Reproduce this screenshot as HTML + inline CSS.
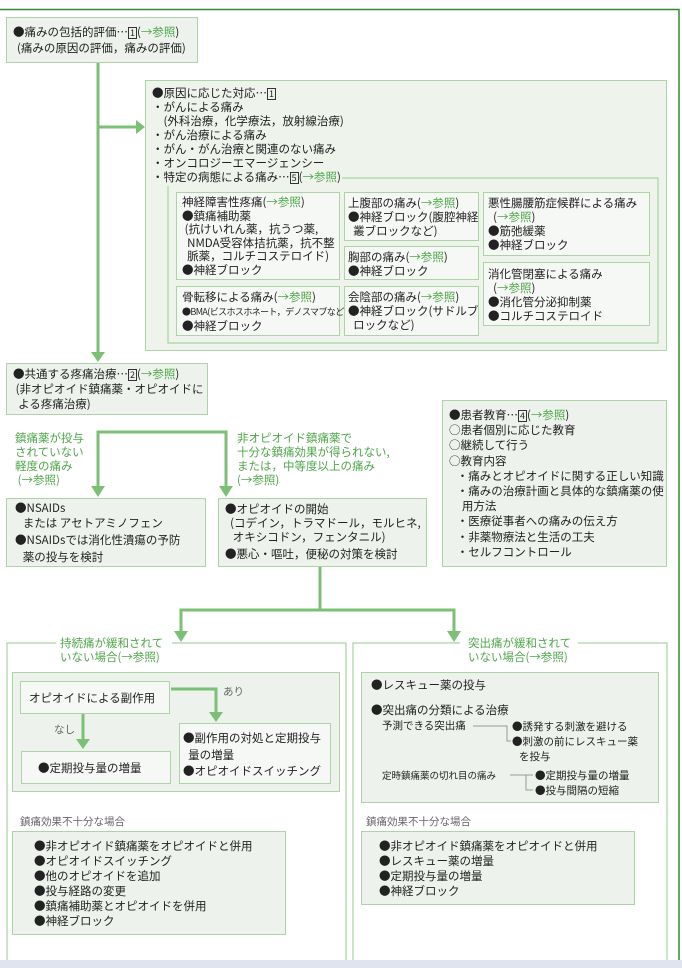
<!DOCTYPE html>
<html><head><meta charset="utf-8"><style>
body{margin:0;width:682px;height:968px;background:#fff;position:relative;overflow:hidden;font-family:"Noto Sans CJK JP","Liberation Sans",sans-serif;color:#222}
.b{position:absolute;background:#edf3ec;border:1.5px solid #acd4a6;box-sizing:border-box}
.w{background:#f6f8f5}
.t{position:absolute;font-size:11.5px;line-height:14px;white-space:nowrap}
.g{color:#4fa64a}
.s{font-size:10.5px}
.gr{color:#666}
.n{border:1px solid #333;font-size:9px;line-height:10px;padding:0 1px;display:inline-block}
</style></head><body>
<div style="position:absolute;left:0;top:960px;width:682px;height:8px;background:#dfe4ee"></div>

<div class="b" style="left:6px;top:17px;width:192px;height:46px"></div>
<div class="t" style="left:13px;top:25px">●痛みの包括的評価…<span class="n">1</span>(<span class="g">→参照</span>)</div>
<div class="t" style="left:17px;top:41px">(痛みの原因の評価，痛みの評価)</div>

<div class="b" style="left:145px;top:80px;width:522px;height:271px;background:#eef3ec"></div>
<div class="t" style="left:152px;top:86px;line-height:14px">●原因に応じた対応…<span class="n">1</span><br>・がんによる痛み<br>　(外科治療，化学療法，放射線治療)<br>・がん治療による痛み<br>・がん・がん治療と関連のない痛み<br>・オンコロジーエマージェンシー<br>・特定の病態による痛み…<span class="n">5</span>(<span class="g">→参照</span>)</div>

<div class="b w" style="left:176px;top:192px;width:164px;height:88px"></div>
<div class="t" style="left:182px;top:196px;line-height:13.5px">神経障害性疼痛(<span class="g">→参照</span>)<br>●鎮痛補助薬<br>&nbsp;(抗けいれん薬，抗うつ薬,<br>&nbsp;&nbsp;NMDA受容体拮抗薬，抗不整<br>&nbsp;&nbsp;脈薬，コルチコステロイド)<br>●神経ブロック</div>
<div class="b w" style="left:344px;top:192px;width:135px;height:49px"></div>
<div class="t" style="left:348px;top:196px;line-height:14px">上腹部の痛み(<span class="g">→参照</span>)<br>●神経ブロック(腹腔神経<br>&nbsp;&nbsp;叢ブロックなど)</div>
<div class="b w" style="left:344px;top:246px;width:135px;height:34px"></div>
<div class="t" style="left:348px;top:250px;line-height:14px">胸部の痛み(<span class="g">→参照</span>)<br>●神経ブロック</div>
<div class="b w" style="left:483px;top:192px;width:167px;height:64px"></div>
<div class="t" style="left:488px;top:196px;line-height:14px">悪性腸腰筋症候群による痛み<br>&nbsp;&nbsp;(<span class="g">→参照</span>)<br>●筋弛緩薬<br>●神経ブロック</div>
<div class="b w" style="left:483px;top:262px;width:167px;height:64px"></div>
<div class="t" style="left:488px;top:267px;line-height:14px">消化管閉塞による痛み<br>&nbsp;&nbsp;(<span class="g">→参照</span>)<br>●消化管分泌抑制薬<br>●コルチコステロイド</div>
<div class="b w" style="left:176px;top:286px;width:164px;height:50px"></div>
<div class="t" style="left:182px;top:290px;line-height:14px">骨転移による痛み(<span class="g">→参照</span>)<br><span style="font-size:9px;letter-spacing:-0.6px">●BMA(ビスホスホネート，デノスマブなど)</span><br>●神経ブロック</div>
<div class="b w" style="left:344px;top:286px;width:135px;height:50px"></div>
<div class="t" style="left:348px;top:290px;line-height:14px">会陰部の痛み(<span class="g">→参照</span>)<br>●神経ブロック(サドルブ<br>&nbsp;&nbsp;ロックなど)</div>

<div class="b" style="left:6px;top:363px;width:202px;height:52px"></div>
<div class="t" style="left:13px;top:367px;line-height:15px">●共通する疼痛治療…<span class="n">2</span>(<span class="g">→参照</span>)<br>&nbsp;(非オピオイド鎮痛薬・オピオイドに<br>&nbsp;&nbsp;よる疼痛治療)</div>

<div class="t g" style="left:15px;top:431px;line-height:14px">鎮痛薬が投与<br>されていない<br>軽度の痛み<br>&nbsp;(→参照)</div>
<div class="t g" style="left:237px;top:431px;line-height:14px">非オピオイド鎮痛薬で<br>十分な鎮痛効果が得られない,<br>または，中等度以上の痛み<br>(→参照)</div>

<div class="b" style="left:6px;top:498px;width:200px;height:69px"></div>
<div class="t" style="left:15px;top:501px;line-height:14.5px">●NSAIDs<br>&nbsp;&nbsp;&nbsp;または アセトアミノフェン<br><span style="line-height:20px">●NSAIDsでは消化性潰瘍の予防</span><br>&nbsp;&nbsp;&nbsp;薬の投与を検討</div>
<div class="b" style="left:218px;top:498px;width:209px;height:69px"></div>
<div class="t" style="left:225px;top:502px;line-height:14px">●オピオイドの開始<br>&nbsp;&nbsp;(コデイン，トラマドール，モルヒネ,<br>&nbsp;&nbsp;&nbsp;オキシコドン，フェンタニル)<br><span style="line-height:20px">●悪心・嘔吐，便秘の対策を検討</span></div>

<div class="b" style="left:442px;top:400px;width:225px;height:167px"></div>
<div class="t" style="left:449px;top:408px;line-height:15.2px">●患者教育…<span class="n">4</span>(<span class="g">→参照</span>)<br>○患者個別に応じた教育<br>○継続して行う<br>○教育内容<br>&nbsp;&nbsp;&nbsp;・痛みとオピオイドに関する正しい知識<br>&nbsp;&nbsp;&nbsp;・痛みの治療計画と具体的な鎮痛薬の使<br>&nbsp;&nbsp;&nbsp;&nbsp;&nbsp;用方法<br>&nbsp;&nbsp;&nbsp;・医療従事者への痛みの伝え方<br>&nbsp;&nbsp;&nbsp;・非薬物療法と生活の工夫<br>&nbsp;&nbsp;&nbsp;・セルフコントロール</div>

<div class="t g" style="left:60px;top:636px">持続痛が緩和されて<br>いない場合(→参照)</div>
<div class="t g" style="left:468px;top:636px">突出痛が緩和されて<br>いない場合(→参照)</div>

<div class="b" style="left:12px;top:672px;width:328px;height:120px"></div>
<div class="b w" style="left:20px;top:681px;width:150px;height:33px"></div>
<div class="t" style="left:29px;top:691px">オピオイドによる副作用</div>
<div class="t gr" style="left:223px;top:685px;font-size:10.5px">あり</div>
<div class="t gr" style="left:54px;top:723px;font-size:10.5px">なし</div>
<div class="b w" style="left:21px;top:751px;width:150px;height:33px"></div>
<div class="t" style="left:38px;top:761px">●定期投与量の増量</div>
<div class="b w" style="left:179px;top:723px;width:152px;height:61px"></div>
<div class="t" style="left:183px;top:730px;line-height:16.5px">●副作用の対処と定期投与<br>&nbsp;&nbsp;量の増量<br>●オピオイドスイッチング</div>

<div class="t gr s" style="left:20px;top:815px">鎮痛効果不十分な場合</div>
<div class="b" style="left:12px;top:831px;width:274px;height:104px"></div>
<div class="t" style="left:34px;top:839px;line-height:15px">●非オピオイド鎮痛薬をオピオイドと併用<br>●オピオイドスイッチング<br>●他のオピオイドを追加<br>●投与経路の変更<br>●鎮痛補助薬とオピオイドを併用<br>●神経ブロック</div>

<div class="b" style="left:361px;top:672px;width:298px;height:131px"></div>
<div class="t" style="left:371px;top:678px">●レスキュー薬の投与</div>
<div class="t" style="left:371px;top:703px">●突出痛の分類による治療</div>
<div class="t s" style="left:382px;top:719px">予測できる突出痛</div>
<div class="t s" style="left:512px;top:719px;line-height:15px">●誘発する刺激を避ける<br>●刺激の前にレスキュー薬<br>&nbsp;&nbsp;&nbsp;を投与</div>
<div class="t s" style="left:382px;top:768px;font-size:9.5px">定時鎮痛薬の切れ目の痛み</div>
<div class="t s" style="left:535px;top:768px;line-height:15px">●定期投与量の増量<br>●投与間隔の短縮</div>

<div class="t gr s" style="left:366px;top:815px">鎮痛効果不十分な場合</div>
<div class="b" style="left:361px;top:831px;width:274px;height:74px"></div>
<div class="t" style="left:379px;top:839px;line-height:15px">●非オピオイド鎮痛薬をオピオイドと併用<br>●レスキュー薬の増量<br>●定期投与量の増量<br>●神経ブロック</div>

<svg width="682" height="968" style="position:absolute;left:0;top:0">
<g fill="none" stroke="#2f8a34" stroke-width="1.5"><polyline points="0,9.5 679,9.5 679,960"/></g>
<g fill="none" stroke="#a9d3a3" stroke-width="1.2">
<polyline points="342,178 658,178 658,343 168,343 168,186"/>
<polyline points="7,960 7,643 56,643"/><polyline points="172,643 346,643 346,960"/>
<polyline points="353,960 353,643 460,643"/><polyline points="578,643 667,643 667,960"/>
</g>
<g fill="none" stroke="#7cbf76" stroke-width="3">
<line x1="98" y1="63" x2="98" y2="352"/><line x1="98" y1="127" x2="136" y2="127"/>
<polyline points="98,487 98,432 226,432 226,487"/>
<polyline points="320,567 320,610"/><polyline points="181,632 181,610 454,610 454,632"/>
<polyline points="171,689 216,689 216,714"/><line x1="83" y1="714" x2="83" y2="740"/>
</g>
<g fill="#7cbf76">
<polygon points="136,120 145,127 136,134"/><polygon points="91,352 105,352 98,362"/>
<polygon points="91,486 105,486 98,497"/><polygon points="219,486 233,486 226,497"/>
<polygon points="174,631 188,631 181,642"/><polygon points="447,631 461,631 454,642"/>
<polygon points="209,712 223,712 216,722"/><polygon points="76,739 90,739 83,749"/>
</g>
<g fill="none" stroke="#999" stroke-width="1">
<polyline points="473,726 507,726 507,741 511,741"/><polyline points="510,775 533,775"/><polyline points="526,775 526,790 533,790"/>
</g>
</svg>
</body></html>
